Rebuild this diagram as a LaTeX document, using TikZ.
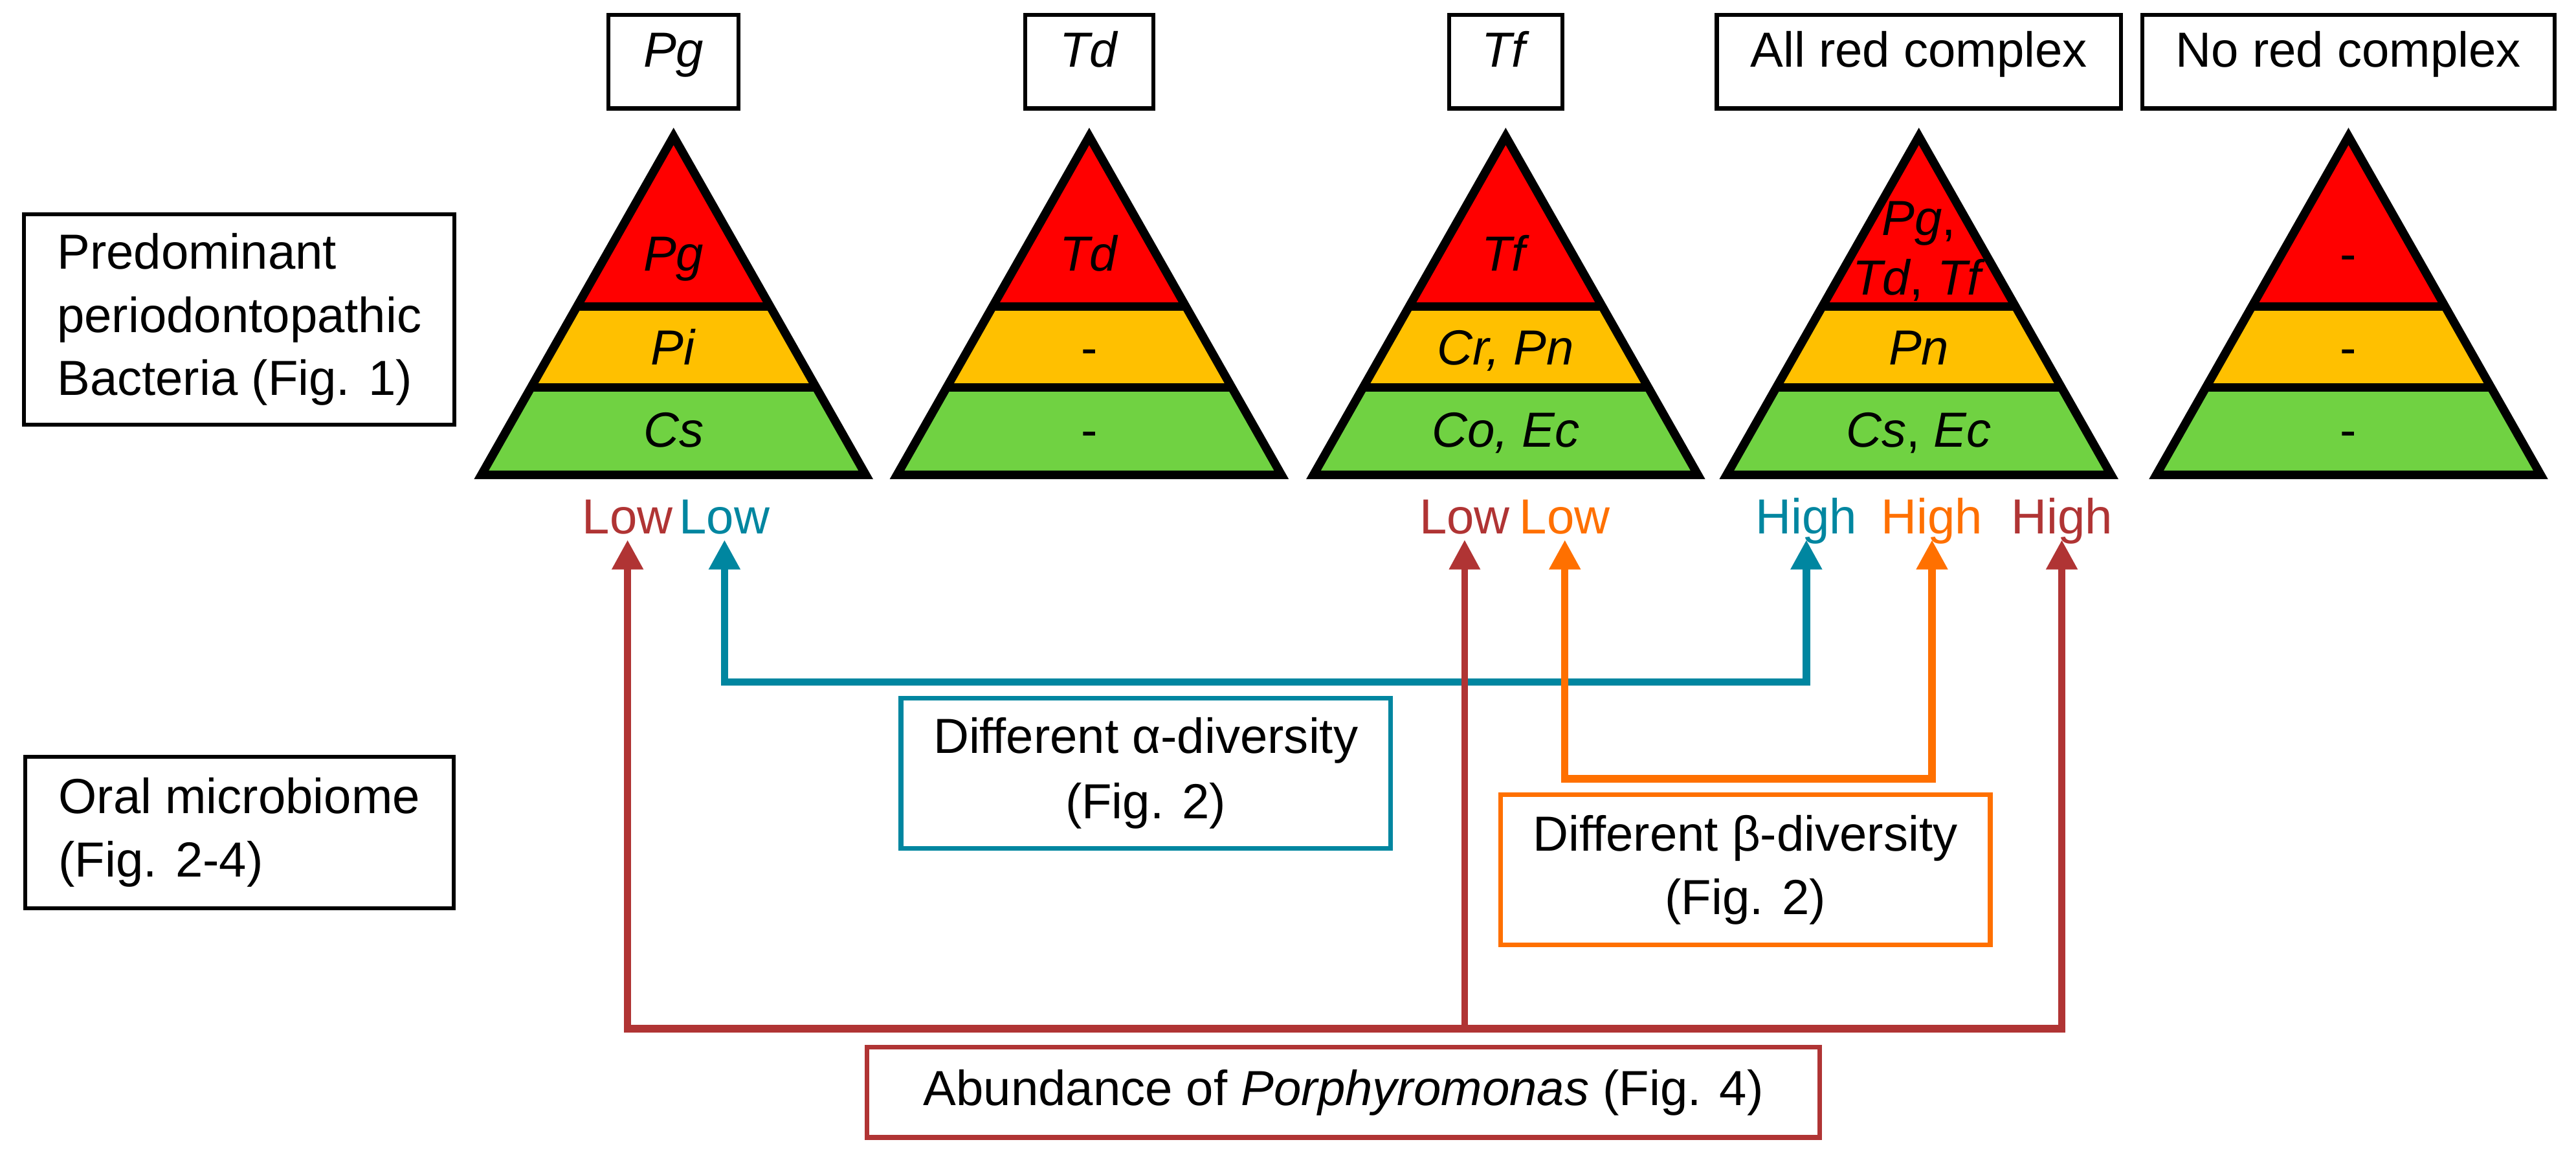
\documentclass[tikz,border=0pt]{standalone}
\usepackage{fontspec}
\setmainfont{Liberation Sans}
\usetikzlibrary{arrows.meta}

\definecolor{pyrred}{RGB}{255,0,0}
\definecolor{pyryellow}{RGB}{255,192,0}
\definecolor{pyrgreen}{RGB}{112,210,66}
\definecolor{alphateal}{RGB}{0,134,160}
\definecolor{betaorange}{RGB}{255,112,0}
\definecolor{porphred}{RGB}{176,52,52}

\tikzset{
  box/.style={draw, line width=2.4pt, inner sep=0pt, align=center},
  head/.style={box, minimum height=57pt, text height=0.75em, text depth=0.1em},
  finding/.style={box, line width=3pt},
  level/.style={anchor=base},
  tag/.style={inner sep=0pt, text depth=0.2em, outer sep=1.5pt, anchor=base},
  link/.style={line width=4.5pt, -{Triangle[length=18pt,width=18pt]}},
  twolink/.style={line width=4.5pt, {Triangle[length=18pt,width=18pt]}-{Triangle[length=18pt,width=18pt]}},
}

% pyramid: centre x, name, top, middle, bottom
\newcommand{\pyramid}[5]{
  \fill[pyrred] (#1,83) -- (#1-58.8,186.6) -- (#1+58.8,186.6) -- cycle;
  \fill[pyryellow] (#1-58.8,186.6) -- (#1+58.8,186.6) -- (#1+86.8,235.9) -- (#1-86.8,235.9) -- cycle;
  \fill[pyrgreen] (#1-86.8,235.9) -- (#1+86.8,235.9) -- (#1+117,289) -- (#1-117,289) -- cycle;
  \draw[line width=5.2pt] (#1,83) -- (#1+117,289) -- (#1-117,289) -- cycle;
  \draw[line width=5.2pt] (#1-58.8,186.6) -- (#1+58.8,186.6);
  \draw[line width=5.2pt] (#1-86.8,235.9) -- (#1+86.8,235.9);
  \node[level] (#2top) at (#1,165) {#3};
  \node[level] (#2mid) at (#1,222) {#4};
  \node[level] (#2bot) at (#1,272) {#5};
}

\begin{document}
\begin{tikzpicture}[x=1pt, y=-1pt, font=\fontsize{30}{38.5}\selectfont]
  \useasboundingbox (0,0) rectangle (1568,708);

  % row headings
  \node[box, minimum width=262pt, minimum height=128pt, align=left] (bacteria) at (145.7,194.4)
        {Predominant\\periodontopathic\\Bacteria (Fig. 1)};
  \node[box, minimum width=261pt, minimum height=92pt, align=left] (oral) at (145.7,506.6)
        {Oral microbiome\\(Fig. 2-4)};

  % group headings
  \node[head, minimum width=79pt] (pgHead) at (410,37.5) {\textit{Pg}};
  \node[head, minimum width=78pt] (tdHead) at (663,37.5) {\textit{Td}};
  \node[head, minimum width=69pt] (tfHead) at (916.5,37.5) {\textit{Tf}};
  \node[head, minimum width=246pt] (allHead) at (1168,37.5) {All red complex};
  \node[head, minimum width=251pt] (noneHead) at (1429.5,37.5) {No red complex};

  % pyramids
  \pyramid{410}{pg}{\textit{Pg}}{\textit{Pi}}{\textit{Cs}}
  \pyramid{663}{td}{\textit{Td}}{-}{-}
  \pyramid{916.5}{tf}{\textit{Tf}}{\textit{Cr, Pn}}{\textit{Co, Ec}}
  \pyramid{1168}{all}{}{\textit{Pn}}{\textit{Cs}, \textit{Ec}}
  \pyramid{1429.5}{none}{-}{-}{-}
  \node[align=center, font=\fontsize{30}{36}\selectfont] (allred) at (1168,153) {\textit{Pg},\\\textit{Td}, \textit{Tf}};

  % levels
  \node[tag, text=porphred] (lowP) at (382,325) {Low};
  \node[tag, text=alphateal] (lowA) at (441,325) {Low};
  \node[tag, text=porphred] (lowQ) at (891.5,325) {Low};
  \node[tag, text=betaorange] (lowB) at (952.5,325) {Low};
  \node[tag, text=alphateal] (highA) at (1099.5,325) {High};
  \node[tag, text=betaorange] (highB) at (1176,325) {High};
  \node[tag, text=porphred] (highP) at (1255,325) {High};

  \coordinate (aline) at (0,415);
  \coordinate (bline) at (0,474);
  \coordinate (pline) at (0,626);

  % connectors
  \draw[twolink, alphateal] (lowA.south) -- (lowA.south |- aline) -- (highA.south |- aline) -- (highA.south);
  \draw[twolink, betaorange] (lowB.south) -- (lowB.south |- bline) -- (highB.south |- bline) -- (highB.south);
  \draw[twolink, porphred] (lowP.south) -- (lowP.south |- pline) -- (highP.south |- pline) -- (highP.south);
  \draw[link, porphred, line width=4pt] (lowQ.south |- pline) -- (lowQ.south);

  % findings
  \node[finding, draw=alphateal, minimum width=298pt, minimum height=91.5pt, font=\fontsize{30}{40}\selectfont] (alpha) at (697.4,470.6)
        {Different α-diversity\\(Fig. 2)};
  \node[finding, draw=betaorange, minimum width=298pt, minimum height=91.5pt] (beta) at (1062.4,529.3)
        {Different β-diversity\\(Fig. 2)};
  \node[finding, draw=porphred, minimum width=580pt, minimum height=55pt] (abund) at (817.7,664.8)
        {Abundance of \textit{Porphyromonas} (Fig. 4)};
\end{tikzpicture}
\end{document}
